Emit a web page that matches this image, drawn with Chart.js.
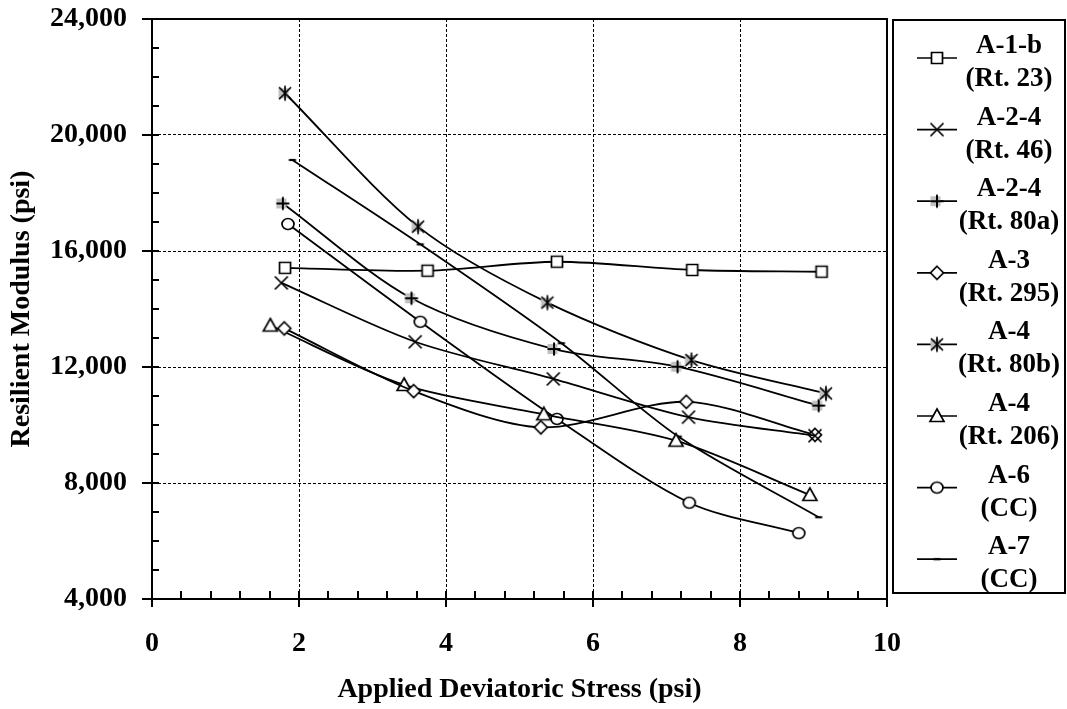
<!DOCTYPE html>
<html>
<head>
<meta charset="utf-8">
<title>Resilient Modulus vs Applied Deviatoric Stress</title>
<script src="https://cdn.jsdelivr.net/npm/chart.js@4.4.1/dist/chart.umd.min.js"></script>
<style>
    html, body { margin: 0; padding: 0; background: #fff; }
    canvas { display: block; }
</style>
</head>
<body>
<canvas id="modulusChart" width="1067" height="709"></canvas>
<script>
// Legend text (two lines per soil)
const soilClasses = ['A-1-b', 'A-2-4', 'A-2-4', 'A-3', 'A-4', 'A-4', 'A-6', 'A-7'];
const soilSources = ['(Rt. 23)', '(Rt. 46)', '(Rt. 80a)', '(Rt. 295)', '(Rt. 80b)', '(Rt. 206)', '(CC)', '(CC)'];
const markerKinds = ['square', 'cross', 'plusGray', 'diamond', 'starGray', 'triangle', 'circle', 'dash'];

// Applied deviatoric stress (psi) / resilient modulus (psi)
const stressA1b = [1.81, 3.75, 5.51, 7.35, 9.11];
const modulusA1b = [15420, 15320, 15630, 15345, 15285];

const stressA24Rt46 = [1.76, 3.58, 5.46, 7.30, 9.02];
const modulusA24Rt46 = [14900, 12870, 11590, 10270, 9630];

const stressA24Rt80a = [1.78, 3.53, 5.47, 7.15, 9.07];
const modulusA24Rt80a = [17640, 14370, 12620, 12010, 10670];

const stressA3 = [1.80, 3.56, 5.29, 7.27, 9.02];
const modulusA3 = [13330, 11170, 9920, 10800, 9660];

const stressA4Rt80b = [1.81, 3.62, 5.38, 7.34, 9.17];
const modulusA4Rt80b = [21440, 16840, 14220, 12240, 11090];

const stressA4Rt206 = [1.61, 3.43, 5.33, 7.13, 8.95];
const modulusA4Rt206 = [13430, 11380, 10370, 9460, 7590];

const stressA6 = [1.85, 3.65, 5.51, 7.31, 8.80];
const modulusA6 = [16930, 13560, 10210, 7320, 6270];

const stressA7 = [1.91, 3.65, 5.57, 7.16, 9.07];
const modulusA7 = [19140, 16230, 12820, 9600, 6820];

const stressSeries = [stressA1b, stressA24Rt46, stressA24Rt80a, stressA3, stressA4Rt80b, stressA4Rt206, stressA6, stressA7];
const modulusSeries = [modulusA1b, modulusA24Rt46, modulusA24Rt80a, modulusA3, modulusA4Rt80b, modulusA4Rt206, modulusA6, modulusA7];

const FONT_FAMILY = "'Liberation Serif', 'Times New Roman', serif";

function makeMarker(kind) {
    const size = 18;
    const c = document.createElement('canvas');
    c.width = size;
    c.height = size;
    const ctx = c.getContext('2d');
    const m = size / 2;
    ctx.strokeStyle = '#000';
    ctx.fillStyle = '#fff';
    ctx.lineWidth = 1.7;

    if (kind === 'plusGray' || kind === 'starGray') {
        ctx.fillStyle = '#c0c0c0';
        ctx.fillRect(m - 6.5, m - 5, 10, 10);
        ctx.fillStyle = '#fff';
    }

    ctx.beginPath();
    switch (kind) {
        case 'square':
            ctx.rect(m - 5.5, m - 5.5, 11, 11);
            ctx.fill();
            ctx.stroke();
            break;
        case 'cross':
            ctx.moveTo(m - 6.5, m - 6.5); ctx.lineTo(m + 6.5, m + 6.5);
            ctx.moveTo(m - 6.5, m + 6.5); ctx.lineTo(m + 6.5, m - 6.5);
            ctx.stroke();
            break;
        case 'plusGray':
            ctx.lineWidth = 2;
            ctx.moveTo(m - 6.5, m); ctx.lineTo(m + 6.5, m);
            ctx.moveTo(m, m - 6.5); ctx.lineTo(m, m + 6.5);
            ctx.stroke();
            break;
        case 'diamond':
            ctx.moveTo(m, m - 6.5); ctx.lineTo(m + 6.5, m);
            ctx.lineTo(m, m + 6.5); ctx.lineTo(m - 6.5, m);
            ctx.closePath();
            ctx.fill();
            ctx.stroke();
            break;
        case 'starGray':
            ctx.moveTo(m - 6, m - 6); ctx.lineTo(m + 6, m + 6);
            ctx.moveTo(m - 6, m + 6); ctx.lineTo(m + 6, m - 6);
            ctx.moveTo(m, m - 7.5); ctx.lineTo(m, m + 7.5);
            ctx.stroke();
            break;
        case 'triangle':
            ctx.moveTo(m, m - 7); ctx.lineTo(m + 7, m + 5.5);
            ctx.lineTo(m - 7, m + 5.5);
            ctx.closePath();
            ctx.fill();
            ctx.stroke();
            break;
        case 'circle':
            ctx.ellipse(m, m, 6, 5.5, 0, 0, Math.PI * 2);
            ctx.fill();
            ctx.stroke();
            break;
        case 'dash':
            ctx.lineWidth = 2.2;
            ctx.moveTo(m - 3.5, m); ctx.lineTo(m + 3.5, m);
            ctx.stroke();
            break;
    }
    return c;
}

const markers = markerKinds.map(makeMarker);

// Box round the plot plus the major/minor tick marks
const axisFramePlugin = {
    id: 'axisFrame',
    afterDraw(chart) {
        const { ctx, chartArea: a, scales: { x, y } } = chart;
        ctx.save();
        ctx.strokeStyle = '#000';
        ctx.lineWidth = 2;
        ctx.strokeRect(a.left, a.top, a.right - a.left, a.bottom - a.top);

        ctx.beginPath();
        for (let k = 0; k <= 25; k++) {
            const px = Math.round(x.getPixelForValue(k * 0.4));
            const major = k % 5 === 0;
            ctx.moveTo(px, a.bottom - 8);
            ctx.lineTo(px, a.bottom + (major ? 8 : 0));
        }
        for (let k = 0; k <= 20; k++) {
            const py = Math.round(y.getPixelForValue(4000 + k * 1000));
            const major = k % 4 === 0;
            ctx.moveTo(a.left - (major ? 10 : 0), py);
            ctx.lineTo(a.left + 7, py);
        }
        ctx.stroke();
        ctx.restore();
    }
};

// Boxed legend on the right, each entry with two text lines
const sideLegendPlugin = {
    id: 'sideLegend',
    afterDraw(chart) {
        const { ctx } = chart;
        ctx.save();
        ctx.strokeStyle = '#000';
        ctx.lineWidth = 2;
        ctx.strokeRect(893, 20, 172, 573);

        ctx.font = `bold 27px ${FONT_FAMILY}`;
        ctx.fillStyle = '#000';
        ctx.textAlign = 'center';
        ctx.textBaseline = 'middle';

        soilClasses.forEach((name, i) => {
            const my = 58 + i * 71.6;
            ctx.lineWidth = 1.7;
            ctx.beginPath();
            ctx.moveTo(917, my);
            ctx.lineTo(957, my);
            ctx.stroke();
            const mk = markers[i];
            ctx.drawImage(mk, 937 - mk.width / 2, my - mk.height / 2);
            ctx.fillText(name, 1009, my - 12);
            ctx.fillText(soilSources[i], 1009, my + 21);
        });
        ctx.restore();
    }
};

const datasets = soilClasses.map((name, i) => ({
    label: `${name} ${soilSources[i]}`,
    data: stressSeries[i].map((sx, j) => ({ x: sx, y: modulusSeries[i][j] })),
    borderColor: '#000',
    backgroundColor: '#000',
    borderWidth: 1.8,
    tension: 0.3,
    fill: false,
    pointStyle: markers[i],
    pointRadius: 6
}));

const gridColor = (ctx) => {
    const v = ctx.tick ? ctx.tick.value : null;
    const scale = ctx.scale;
    if (v === scale.min || v === scale.max) return 'rgba(0,0,0,0)';
    return '#000';
};

new Chart(document.getElementById('modulusChart'), {
    type: 'line',
    data: { datasets },
    plugins: [axisFramePlugin, sideLegendPlugin],
    options: {
        responsive: false,
        animation: false,
        devicePixelRatio: 1,
        layout: { padding: { top: 19, right: 180, left: 0, bottom: 0 } },
        plugins: {
            legend: { display: false },
            tooltip: { enabled: false }
        },
        scales: {
            x: {
                type: 'linear',
                min: 0,
                max: 10,
                afterFit: (scale) => {
                    scale.height = 110;
                    scale.paddingLeft = 0;
                    scale.paddingRight = 0;
                },
                ticks: {
                    stepSize: 2,
                    color: '#000',
                    padding: 28,
                    maxRotation: 0,
                    font: { family: FONT_FAMILY, size: 28, weight: 'bold' }
                },
                grid: { color: gridColor, lineWidth: 1, drawTicks: false },
                border: { display: true, color: '#000', width: 2, dash: [3, 2] },
                title: {
                    display: true,
                    text: 'Applied Deviatoric Stress (psi)',
                    color: '#000',
                    padding: { top: 0, bottom: 2 },
                    font: { family: FONT_FAMILY, size: 28, weight: 'bold' }
                }
            },
            y: {
                type: 'linear',
                min: 4000,
                max: 24000,
                afterFit: (scale) => {
                    scale.width = 152;
                    scale.paddingTop = 0;
                    scale.paddingBottom = 0;
                },
                ticks: {
                    stepSize: 4000,
                    color: '#000',
                    padding: 25,
                    callback: (v) => v.toLocaleString('en-US'),
                    font: { family: FONT_FAMILY, size: 28, weight: 'bold' }
                },
                grid: { color: gridColor, lineWidth: 1, drawTicks: false },
                border: { display: true, color: '#000', width: 2, dash: [3, 2] },
                title: {
                    display: true,
                    text: 'Resilient Modulus (psi)',
                    color: '#000',
                    padding: { top: 5, bottom: 0 },
                    font: { family: FONT_FAMILY, size: 28, weight: 'bold' }
                }
            }
        }
    }
});
</script>
</body>
</html>
